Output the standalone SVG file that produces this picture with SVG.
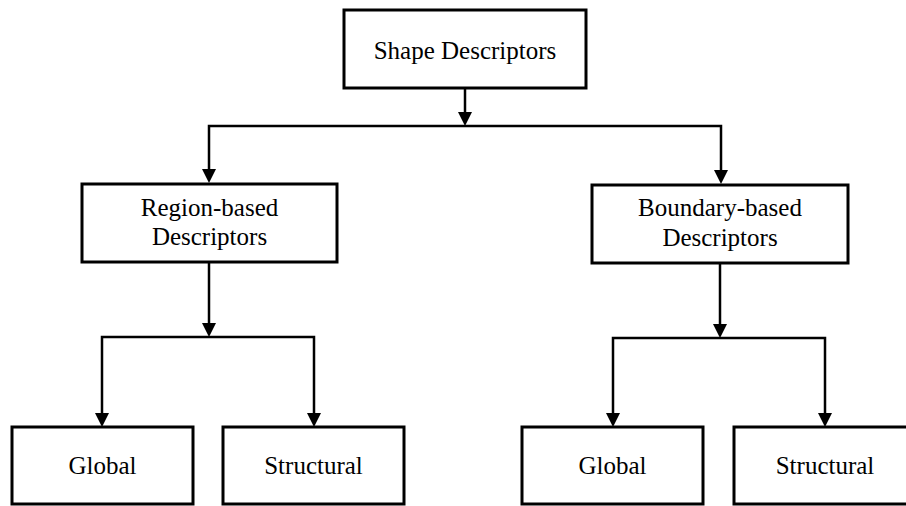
<svg xmlns="http://www.w3.org/2000/svg" width="906" height="506" viewBox="0 0 906 506">
  <style>
    .box { fill: #fff; stroke: #000; stroke-width: 3; }
    .lbl { font-family: "Liberation Serif", "Times New Roman", serif; font-size: 25px; fill: #000; text-anchor: middle; }
    .conn { fill: none; stroke: #000; stroke-width: 2.5; stroke-linejoin: miter; marker-end: url(#arrow); }
  </style>
  <defs>
    <marker id="arrow" markerUnits="userSpaceOnUse" markerWidth="14" markerHeight="14" viewBox="0 0 14 14" refX="10" refY="7" orient="auto">
      <path d="M0,0 L14,7 L0,14 Z" fill="#000"/>
    </marker>
  </defs>
  <rect width="906" height="506" fill="#fff"/>
  <g id="connectors">
    <path class="conn" d="M465,88 V122"/>
    <path class="conn" d="M465,126 H209 V179"/>
    <path class="conn" d="M465,126 H721 V180"/>
    <path class="conn" d="M209,262 V333"/>
    <path class="conn" d="M209,337 H102 V423"/>
    <path class="conn" d="M209,337 H314 V423"/>
    <path class="conn" d="M720,263 V334"/>
    <path class="conn" d="M720,338 H613 V423"/>
    <path class="conn" d="M720,338 H825 V423"/>
  </g>
  <g id="shape-descriptors">
    <rect class="box" x="344" y="10" width="242" height="78"/>
    <text class="lbl" x="465" y="59">Shape Descriptors</text>
  </g>
  <g id="region-based">
    <rect class="box" x="82" y="184" width="255" height="78"/>
    <text class="lbl" x="209.5" y="216">Region-based</text>
    <text class="lbl" x="209.5" y="245">Descriptors</text>
  </g>
  <g id="boundary-based">
    <rect class="box" x="592" y="185" width="256" height="78"/>
    <text class="lbl" x="720" y="216">Boundary-based</text>
    <text class="lbl" x="720" y="246">Descriptors</text>
  </g>
  <g id="region-global">
    <rect class="box" x="12" y="427" width="181" height="77"/>
    <text class="lbl" x="102.5" y="474">Global</text>
  </g>
  <g id="region-structural">
    <rect class="box" x="223" y="427" width="181" height="77"/>
    <text class="lbl" x="313.5" y="474">Structural</text>
  </g>
  <g id="boundary-global">
    <rect class="box" x="522" y="427" width="181" height="77"/>
    <text class="lbl" x="612.5" y="474">Global</text>
  </g>
  <g id="boundary-structural">
    <rect class="box" x="734" y="427" width="182" height="77"/>
    <text class="lbl" x="825" y="474">Structural</text>
  </g>
</svg>
